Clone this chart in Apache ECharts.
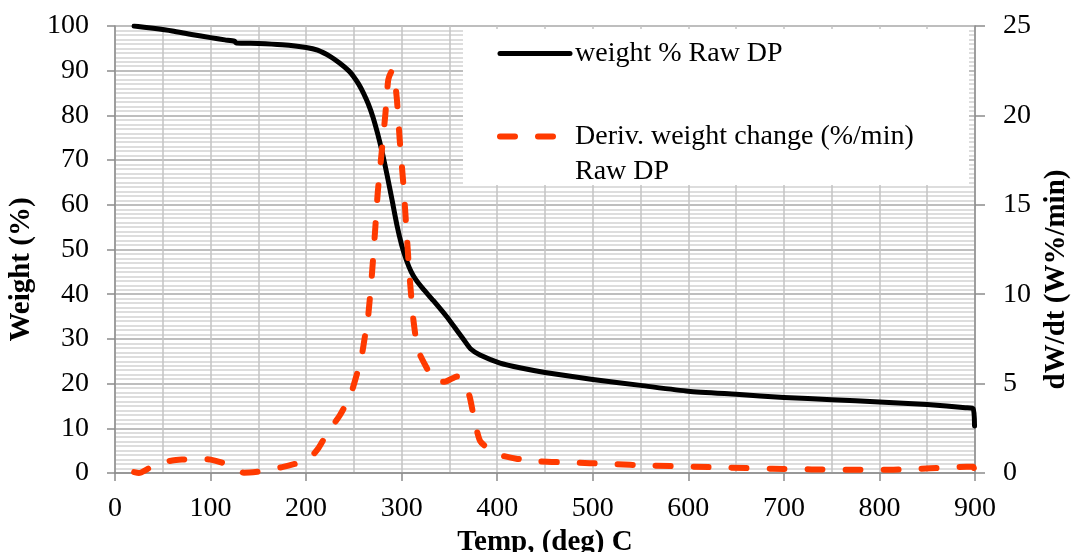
<!DOCTYPE html>
<html>
<head>
<meta charset="utf-8">
<script src="https://cdn.jsdelivr.net/npm/echarts@6/dist/echarts.min.js"></script>
<style>
  html, body { margin: 0; padding: 0; background: #ffffff; }
  #chart { width: 1072px; height: 552px; }
</style>
</head>
<body>
<div id="chart"></div>
<script>
// ---- data ----
const weightSeriesName = 'weight % Raw DP';
const derivSeriesName = 'Deriv. weight change (%/min) Raw DP';
const xAxisTitle = 'Temp, (deg) C';
const leftAxisTitle = 'Weight (%)';
const rightAxisTitle = 'dW/dt (W%/min)';

// [temperature (deg C), weight %]
const weightData = [
  [20,100],[40,99.5],[60,98.9],[80,98.1],[100,97.4],[115,96.9],[125,96.6],[127,96.2],
  [150,96.1],[175,95.8],[200,95.2],[212,94.6],[225,93.2],[235,91.7],[245,89.9],[250,88.6],
  [255,87],[260,85],[265,82.6],[270,79.6],[275,75.8],[280,71.4],[285,66.4],[290,61],
  [295,55.5],[300,51],[305,47.6],[310,45],[315,43.2],[322,41.3],[333,38.6],[347,35],
  [355,32.7],[365,29.8],[372,27.8],[382,26.4],[403,24.6],[425,23.5],[450,22.5],[500,20.9],
  [550,19.6],[600,18.3],[650,17.6],[700,16.9],[750,16.4],[800,15.9],[850,15.3],[890,14.6],
  [898,14.4],[899.5,10.5]
];

// [temperature (deg C), dW/dt (%/min)]
const derivData = [
  [20,0.05],[25,0.0],[35,0.25],[47,0.55],[60,0.7],[70,0.75],[89,0.8],[100,0.75],[112,0.58],
  [120,0.4],[128,0.1],[135,0.02],[154,0.1],[175,0.33],[194,0.6],[205,0.9],[213,1.4],[223,2.3],
  [235,3.2],[246,4.3],[253,5.5],[258,6.5],[262,7.8],[265,8.8],[269,11.2],[272,13.4],[275,15.7],
  [279,17.9],[283,20.1],[286,22],[290,22.5],[292,22.3],[295,20.9],[298,18.6],[302,16],[305,13.6],
  [308,11.2],[312,8.7],[317,6.9],[326,5.9],[335,5.1],[345,5.1],[358,5.4],[365,5.0],[371,4.3],
  [376,3.0],[382,1.8],[392,1.3],[403,1.0],[420,0.8],[445,0.65],[470,0.6],[497,0.55],[518,0.5],
  [560,0.42],[602,0.36],[644,0.3],[688,0.24],[729,0.2],[769,0.18],[811,0.18],[853,0.26],
  [891,0.35],[898,0.35],[900,0.0]
];

const xTicks = { min: 0, max: 900, step: 100 };
const leftTicks = { min: 0, max: 100, step: 10 };
const rightTicks = { min: 0, max: 25, step: 5 };

// ---- chart ----
const FONT = '"Liberation Serif", "Times New Roman", serif';
const chart = echarts.init(document.getElementById('chart'), null, { renderer: 'canvas' });

const labelStyle = { color: '#000', fontFamily: FONT, fontSize: 28 };
const nameStyle = { color: '#000', fontFamily: FONT, fontSize: 29, fontWeight: 'bold' };
const hiddenSymbol = { color: 'rgba(0,0,0,0)', borderWidth: 0, opacity: 0 };

chart.setOption({
  animation: false,
  backgroundColor: '#ffffff',
  grid: { left: 115, right: 97, top: 26, bottom: 79, containLabel: false, outerBoundsMode: 'none' },
  graphic: [{
    type: 'rect', left: 463, top: 29, z: 3,
    shape: { width: 506, height: 156 },
    style: { fill: '#ffffff' }
  }],
  legend: {
    z: 10,
    orient: 'vertical',
    left: 497, top: 36,
    padding: 0,
    itemWidth: 70, itemHeight: 14, itemGap: 13,
    textStyle: { color: '#000', fontFamily: FONT, fontSize: 28, lineHeight: 35 },
    formatter: function (name) {
      if (name === derivSeriesName) return ' \nDeriv. weight change (%/min)\nRaw DP';
      return name;
    },
    data: [
      { name: weightSeriesName, itemStyle: hiddenSymbol, lineStyle: { width: 5, color: '#000' } },
      { name: derivSeriesName, itemStyle: hiddenSymbol, lineStyle: { width: 6, color: '#ff3a00', type: [15, 23], cap: 'round' } }
    ]
  },
  xAxis: {
    type: 'value',
    min: xTicks.min, max: xTicks.max, interval: xTicks.step,
    name: xAxisTitle, nameLocation: 'middle', nameGap: 54, nameTextStyle: nameStyle,
    axisLine: { show: true, onZero: false, lineStyle: { color: '#8c8c8c', width: 1.5 } },
    axisTick: { show: true, inside: false, length: 8, lineStyle: { color: '#8c8c8c', width: 1.5 } },
    axisLabel: Object.assign({ margin: 22 }, labelStyle),
    splitLine: { show: true, lineStyle: { color: '#c3c3c3', width: 1.5 } },
    minorTick: { show: false, splitNumber: 2 },
    minorSplitLine: { show: true, lineStyle: { color: '#c3c3c3', width: 1.5 } }
  },
  yAxis: [{
    type: 'value', position: 'left',
    min: leftTicks.min, max: leftTicks.max, interval: leftTicks.step,
    name: leftAxisTitle, nameLocation: 'middle', nameGap: 73, nameRotate: 90,
    nameTextStyle: Object.assign({ padding: [0, 40, 0, 0] }, nameStyle),
    axisLine: { show: true, lineStyle: { color: '#8c8c8c', width: 1.5 } },
    axisTick: { show: true, inside: false, length: 8, lineStyle: { color: '#8c8c8c', width: 1.5 } },
    axisLabel: Object.assign({ margin: 26 }, labelStyle),
    splitLine: { show: true, lineStyle: { color: '#a8a8a8', width: 1.5 } },
    minorTick: { show: false, splitNumber: 10 },
    minorSplitLine: { show: true, lineStyle: { color: '#d2d2d2', width: 1.5 } }
  }, {
    type: 'value', position: 'right',
    min: rightTicks.min, max: rightTicks.max, interval: rightTicks.step,
    name: rightAxisTitle, nameLocation: 'middle', nameGap: 66, nameRotate: 90,
    nameTextStyle: Object.assign({ padding: [0, 60, 0, 0] }, nameStyle),
    axisLine: { show: true, lineStyle: { color: '#8c8c8c', width: 1.5 } },
    axisTick: { show: true, inside: false, length: 10, lineStyle: { color: '#8c8c8c', width: 1.5 } },
    axisLabel: Object.assign({ margin: 28 }, labelStyle),
    splitLine: { show: false }
  }],
  series: [{
    name: weightSeriesName,
    type: 'line', yAxisIndex: 0, z: 4,
    data: weightData,
    symbol: 'none', showSymbol: false, smooth: 0.2,
    itemStyle: { color: '#000' },
    lineStyle: { color: '#000', width: 5, cap: 'round', join: 'round' }
  }, {
    name: derivSeriesName,
    type: 'line', yAxisIndex: 1, z: 5,
    data: derivData,
    symbol: 'none', showSymbol: false, smooth: 0.2,
    itemStyle: { color: '#ff3a00' },
    lineStyle: { color: '#ff3a00', width: 6, type: [15, 23], cap: 'round', join: 'round' }
  }]
});
</script>
</body>
</html>
